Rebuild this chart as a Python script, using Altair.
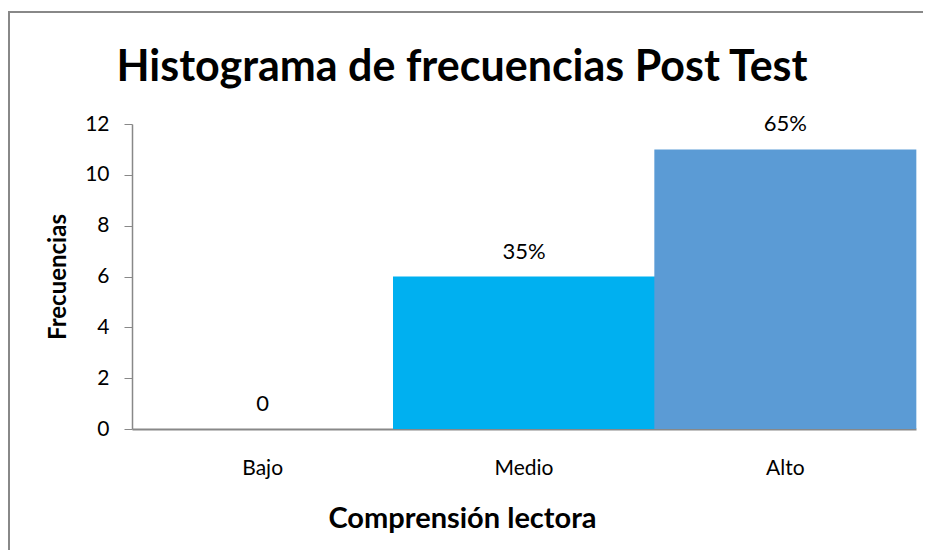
import altair as alt
import pandas as pd

categories = ["Bajo", "Medio", "Alto"]
values = [0, 6, 11]
labels = ["0", "35%", "65%"]
colors = ["#00B0F0", "#00B0F0", "#5B9BD5"]
title_text = ["Histograma de frecuencias Post Test"]

df = pd.DataFrame({"cat": categories, "val": values, "lab": labels, "col": colors})
tdf = pd.DataFrame({"t": title_text})

W, H = 784, 305
FONT = "Lato"

x = alt.X("cat:N", sort=categories,
          scale=alt.Scale(paddingInner=0, paddingOuter=0),
          axis=alt.Axis(title="Comprensión lectora", labelAngle=0, ticks=False,
                        labelPadding=28, labelFontSize=21, labelFont=FONT,
                        labelColor="#000", titleFontSize=29, titleFont=FONT,
                        titleFontWeight="bold", titleColor="#000", titlePadding=26,
                        titleX=330, domainColor="#888", domainWidth=2))
y = alt.Y("val:Q", scale=alt.Scale(domain=[0, 12]),
          axis=alt.Axis(title="Frecuencias", values=[0, 2, 4, 6, 8, 10, 12],
                        grid=False, tickSize=8, tickColor="#888", domainColor="#888",
                        domainWidth=1.5, labelFontSize=21, labelFont=FONT,
                        labelColor="#000", labelPadding=15, titleFontSize=24,
                        titleFont=FONT, titleFontWeight="bold", titleColor="#000",
                        titlePadding=14))

bars = alt.Chart(df).mark_bar(size=262).encode(
    x=x, y=y, color=alt.Color("col:N", scale=None))

text = alt.Chart(df).mark_text(dy=-25, fontSize=22, font=FONT, color="#000").encode(
    x=alt.X("cat:N", sort=categories), y="val:Q", text="lab:N")

frame = alt.Chart(df).mark_rect(fill=None, stroke="#888", strokeWidth=2).encode(
    x=alt.value(-123), x2=alt.value(900), y=alt.value(-112), y2=alt.value(500))

title = alt.Chart(tdf).mark_text(fontSize=43, font=FONT, fontWeight="bold",
                                 color="#000", baseline="middle", align="center").encode(
    x=alt.value(330), y=alt.value(-56), text="t:N")

chart = alt.layer(frame, bars, text, title).properties(
    width=W, height=H,
    autosize=alt.AutoSizeParams(type="none"),
    padding={"left": 124, "top": 116, "right": 7, "bottom": 121},
).configure_view(stroke=None)

chart.save("out.html", embed_options={"renderer": "svg", "actions": False})
